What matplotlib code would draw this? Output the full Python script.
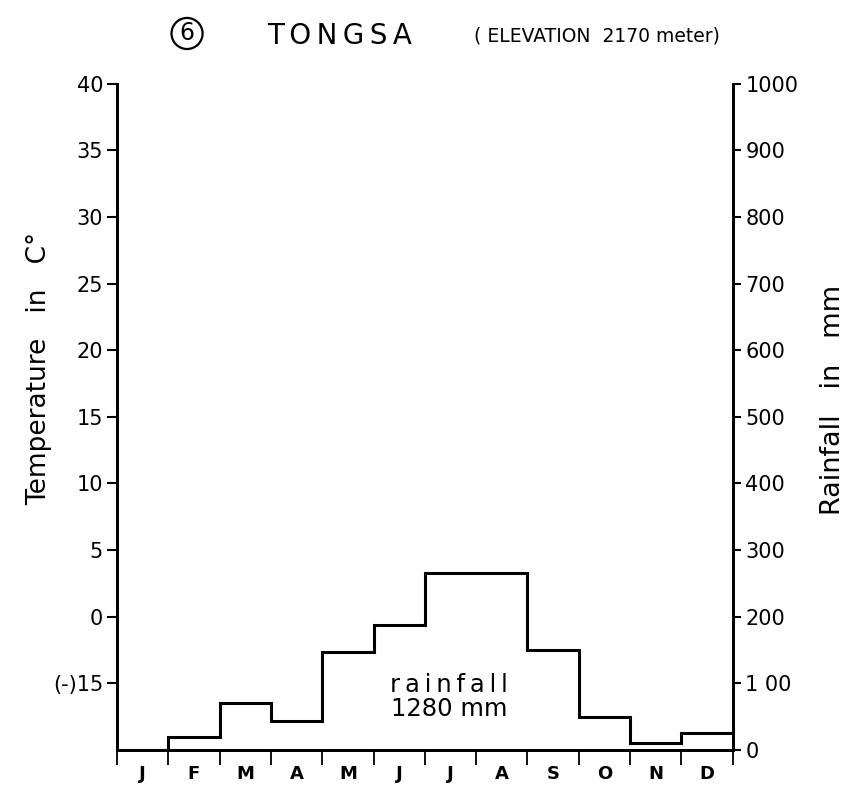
import numpy as np
import matplotlib
matplotlib.use("Agg")
import matplotlib.pyplot as plt

# Monthly rainfall at Tongsa (mm)
months = ["J", "F", "M", "A", "M", "J", "J", "A", "S", "O", "N", "D"]
rainfall_mm = [0, 20, 70, 43, 147, 188, 265, 265, 150, 50, 10, 26]
annual_total_mm = 1280

temp_ticks = [40, 35, 30, 25, 20, 15, 10, 5, 0, -5]
temp_tick_labels = ["40", "35", "30", "25", "20", "15", "10", "5", "0", "(-)15"]
rain_ticks = [0, 100, 200, 300, 400, 500, 600, 700, 800, 900, 1000]
rain_tick_labels = ["0", "1 00", "200", "300", "400", "500", "600", "700", "800", "900", "1000"]

plt.rcParams["font.family"] = ["DejaVu Sans"]

THIN = "\u2009"


def spaced(s):
    """Widen the letter spacing of a label with thin spaces."""
    return THIN.join(s)


fig = plt.figure(figsize=(8.6, 7.97), dpi=100)
ax = fig.add_axes([0.136, 0.059, 0.716, 0.836])
ax2 = ax.twinx()

# temperature axis (left)
ax.set_ylim(-10, 40)
ax.set_yticks(temp_ticks)
ax.set_yticklabels(temp_tick_labels, fontsize=15)
ax.tick_params(axis="y", direction="out", length=7, width=1.5, pad=3)
ax.set_ylabel("Temperature   in   C°", fontsize=19)
ax.yaxis.set_label_coords(-0.106, 0.572)

# month axis
edges = np.arange(len(months) + 1)
ax.set_xlim(0, len(months))
ax.set_xticks(edges)
ax.set_xticklabels([])
ax.set_xticks(edges[:-1] + 0.5, minor=True)
ax.set_xticklabels(months, minor=True, fontsize=13, fontweight="semibold")
ax.tick_params(axis="x", which="major", direction="out", length=11, width=1.3)
ax.tick_params(axis="x", which="minor", length=0, pad=11)

# rainfall axis (right)
ax2.set_ylim(0, 1000)
ax2.set_yticks(rain_ticks)
ax2.set_yticklabels(rain_tick_labels, fontsize=15)
ax2.tick_params(axis="y", direction="out", length=6, width=1.5, pad=3)
ax2.set_ylabel("Rainfall   in   mm", fontsize=19.5)
ax2.yaxis.set_label_coords(1.141, 0.525)

for a in (ax, ax2):
    a.spines["top"].set_visible(False)
    for s in ("left", "right", "bottom"):
        a.spines[s].set_linewidth(2)

ax2.stairs(rainfall_mm, edges, baseline=None, color="black", linewidth=2.2)

ax2.text(6.47, 80, spaced("rainfall") + "\n" + "%d mm" % annual_total_mm,
         ha="center", va="center", fontsize=17.5, linespacing=1.0)

# title
fig.text(0.2175, 0.958, "6", ha="center", va="center", fontsize=17,
         bbox=dict(boxstyle="circle,pad=0.15", fc="white", ec="black", lw=1.6))
fig.text(0.395, 0.955, spaced("TONGSA"), ha="center", va="center", fontsize=20)
fig.text(0.551, 0.955, "( ELEVATION  2170 meter)", ha="left", va="center", fontsize=13.5)

fig.savefig("out.png", dpi=100)
